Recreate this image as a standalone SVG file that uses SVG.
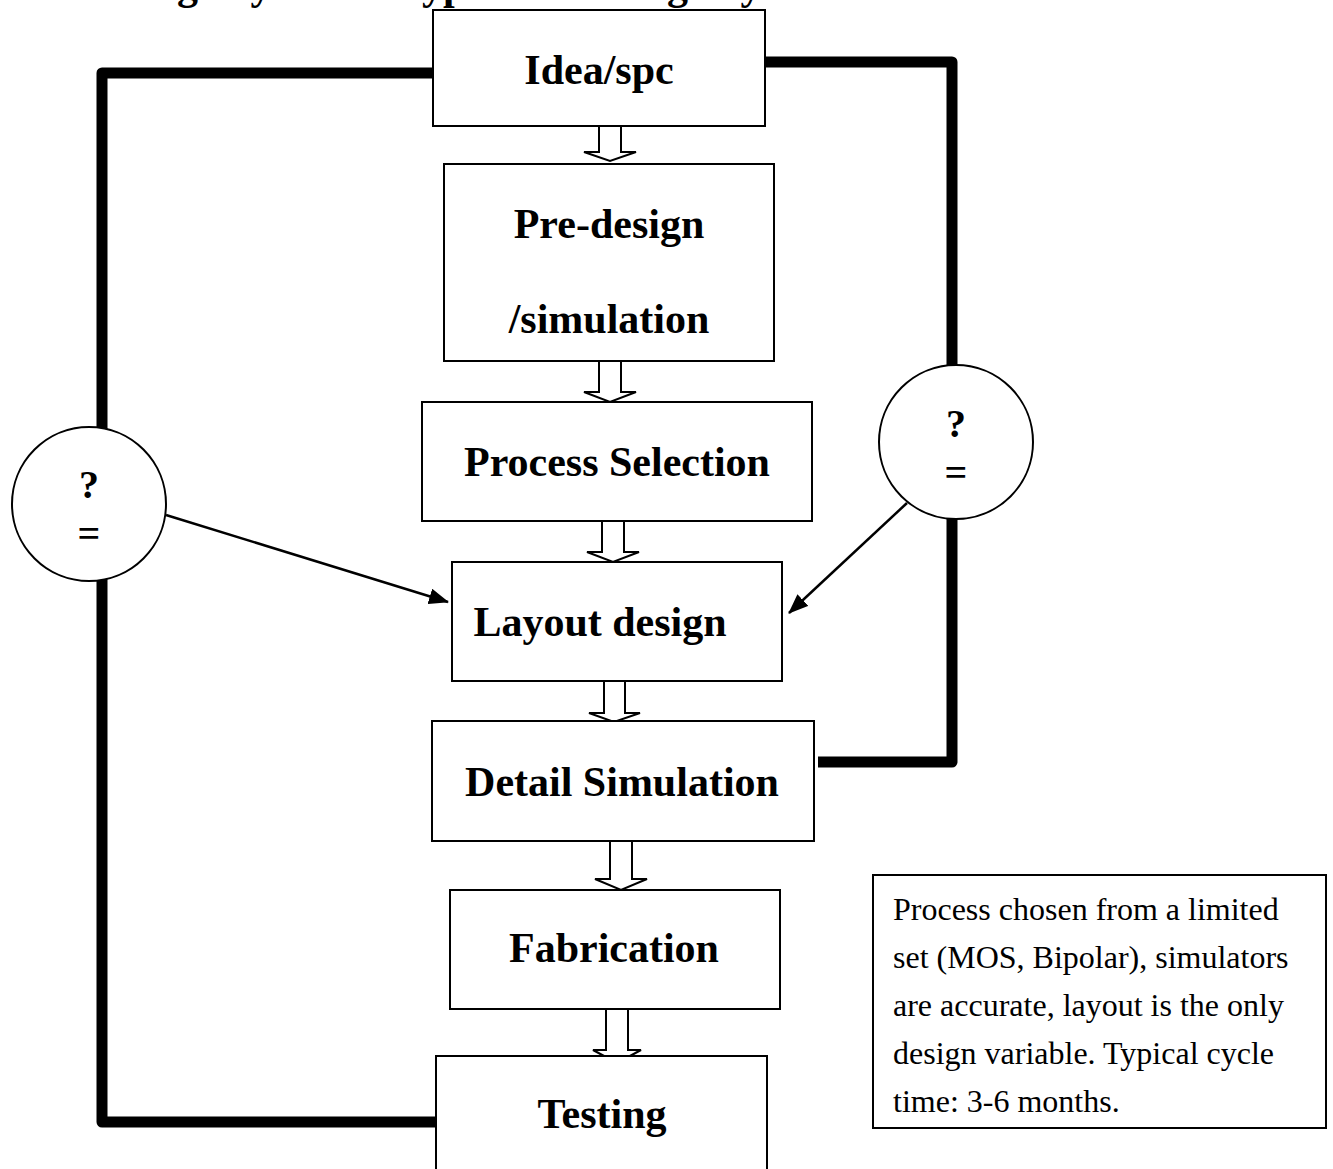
<svg xmlns="http://www.w3.org/2000/svg" width="1333" height="1169" viewBox="0 0 1333 1169">
<defs>
<style>
.box{fill:#fff;stroke:#000;stroke-width:2}
.lbl{font-family:"Liberation Serif","Times New Roman",serif;font-weight:bold;font-size:42px;fill:#000;text-anchor:middle}
.sym{font-family:"Liberation Serif","Times New Roman",serif;font-weight:bold;font-size:40px;fill:#000;text-anchor:middle}
.note{font-family:"Liberation Serif","Times New Roman",serif;font-size:32px;fill:#000}
.thick{fill:none;stroke:#000;stroke-width:11;stroke-linejoin:round}
.thin{fill:none;stroke:#000;stroke-width:2.5}
.blk{fill:#fff;stroke:#000;stroke-width:2}
</style>
<marker id="ahb" markerWidth="20" markerHeight="16" refX="19" refY="8" orient="auto" markerUnits="userSpaceOnUse" viewBox="0 0 20 16">
<path d="M0,0 L20,8 L0,16 Z" fill="#000"/>
</marker>
</defs>
<rect width="1333" height="1169" fill="#fff"/>
<text class="lbl" x="100" y="-1" style="text-anchor:start">Design cycle of a typical IC design cycle</text>
<g id="connectors">
<polyline class="thick" points="433,73 102,73 102,1122 441,1122"/>
<polyline class="thick" points="765,62 952,62 952,762 818,762"/>
<line class="thin" x1="166" y1="515" x2="448" y2="602" marker-end="url(#ahb)"/>
<line class="thin" x1="907" y1="503" x2="789" y2="613" marker-end="url(#ahb)"/>
<polygon class="blk" points="599,126 621,126 621,152 636,152 610,161 584,152 599,152"/>
<polygon class="blk" points="599,361 621,361 621,392 636,392 610,402 584,392 599,392"/>
<polygon class="blk" points="602,521 624,521 624,552 639,552 613,562 587,552 602,552"/>
<polygon class="blk" points="604,681 625,681 625,713 640,713 614,722 589,713 604,713"/>
<polygon class="blk" points="610,841 632,841 632,879 647,879 621,890 595,879 610,879"/>
<polygon class="blk" points="606,1009 628,1009 628,1050 641,1050 617,1063 593,1050 606,1050"/>
</g>
<g id="n-idea"><rect class="box" x="433" y="10" width="332" height="116"/><text class="lbl" x="599" y="84">Idea/spc</text></g>
<g id="n-predesign"><rect class="box" x="444" y="164" width="330" height="197"/><text class="lbl" x="609" y="238">Pre-design</text><text class="lbl" x="609" y="333">/simulation</text></g>
<g id="n-process"><rect class="box" x="422" y="402" width="390" height="119"/><text class="lbl" x="617" y="476">Process Selection</text></g>
<g id="n-layout"><rect class="box" x="452" y="562" width="330" height="119"/><text class="lbl" x="600" y="636">Layout design</text></g>
<g id="n-detail"><rect class="box" x="432" y="721" width="382" height="120"/><text class="lbl" x="622" y="796">Detail Simulation</text></g>
<g id="n-fab"><rect class="box" x="450" y="890" width="330" height="119"/><text class="lbl" x="614" y="962">Fabrication</text></g>
<g id="n-testing"><rect class="box" x="436" y="1056" width="331" height="130"/><text class="lbl" x="602" y="1128">Testing</text></g>
<g id="n-circle-left"><circle class="box" cx="89" cy="504" r="77"/><text class="sym" x="89" y="498">?</text><text class="sym" x="89" y="547">=</text></g>
<g id="n-circle-right"><circle class="box" cx="956" cy="442" r="77"/><text class="sym" x="956" y="437">?</text><text class="sym" x="956" y="486">=</text></g>
<g id="n-note"><rect class="box" x="873" y="875" width="453" height="253"/>
<text class="note" x="893" y="920">Process chosen from a limited</text>
<text class="note" x="893" y="968">set (MOS, Bipolar), simulators</text>
<text class="note" x="893" y="1016">are accurate, layout is the only</text>
<text class="note" x="893" y="1064">design variable. Typical cycle</text>
<text class="note" x="893" y="1112">time: 3-6 months.</text>
</g>
</svg>
